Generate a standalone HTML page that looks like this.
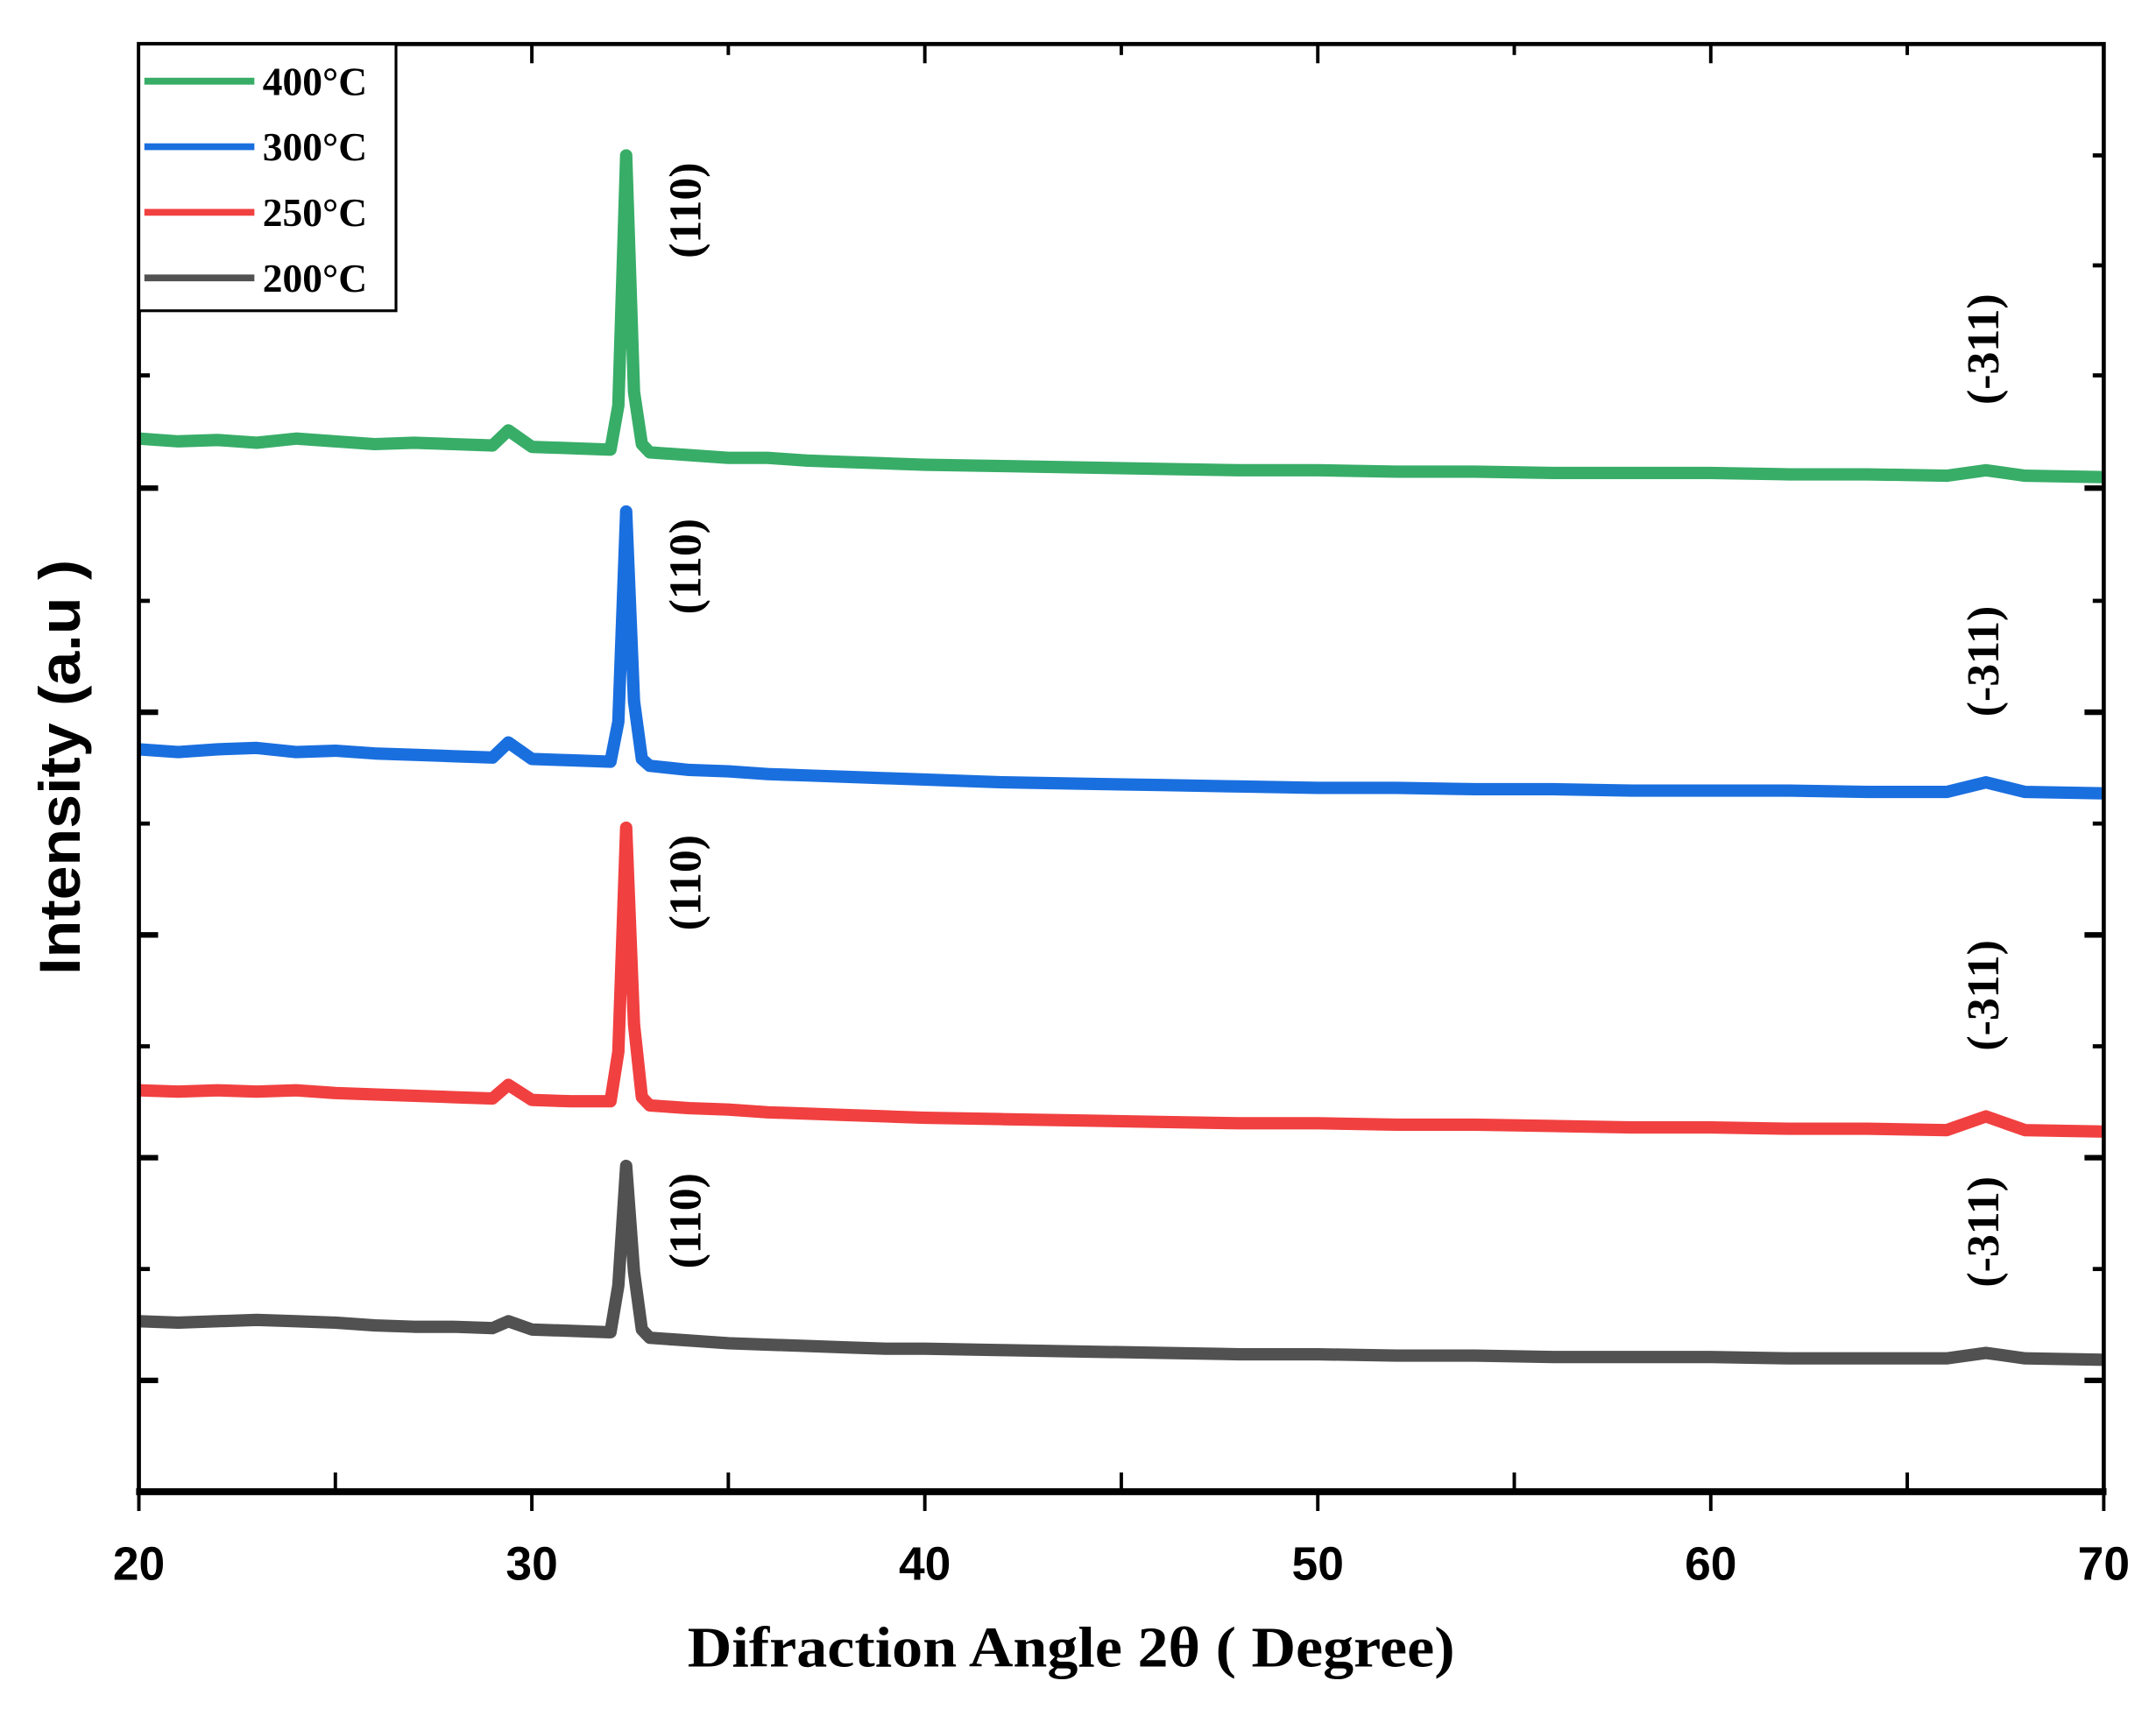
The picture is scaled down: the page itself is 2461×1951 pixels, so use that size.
<!DOCTYPE html>
<html><head><meta charset="utf-8"><style>
html,body{margin:0;padding:0;background:#fff;}
svg{display:block;}
</style></head><body>
<svg id="chart" width="2461" height="1951" viewBox="0 0 1568 1243" xmlns="http://www.w3.org/2000/svg">
<rect width="1568" height="1243" fill="#fff"/>
<g id="series"></g>
<g id="axes"></g>
<g id="legend">
  <rect x="101" y="32" width="187" height="194" fill="#fff" stroke="#000" stroke-width="2"/>
</g>
<text x="779" y="1212" text-anchor="middle" font-family="Liberation Serif, serif" font-weight="bold" font-size="42" textLength="558" lengthAdjust="spacingAndGlyphs">Difraction Angle 2θ ( Degree)</text>
<text transform="translate(58,558) rotate(-90)" text-anchor="middle" font-family="Liberation Sans, sans-serif" font-weight="bold" font-size="42" textLength="302" lengthAdjust="spacingAndGlyphs">Intensity (a.u )</text>
</svg>
<script>
const xs = [20,21,22,23,24,25,26,27,28,29,29.4,30,31,32,32.2,32.4,32.6,32.8,33,34,35,36,37,38,39,40,42,44,46,48,50,52,54,56,58,60,62,64,66,67,68,70];
const s400 = [766,764,765,763,766,764,762,763,762,761,772,760,759,758,790,972,800,762,756,754,752,752,750,749,748,747,746,745,744,743,743,742,742,741,741,741,740,740,739,743,739,738];
const s300 = [540,538,540,541,538,539,537,536,535,534,545,533,532,531,560,713,575,533,528,525,524,522,521,520,519,518,516,515,514,513,512,512,511,511,510,510,510,509,509,516,509,508];
const s250 = [292,291,292,291,292,290,289,288,287,286,296,285,284,284,320,483,340,287,281,279,278,276,275,274,273,272,271,270,269,268,268,267,267,266,265,265,264,264,263,273,263,262];
const s200 = [124,123,124,125,124,123,121,120,120,119,124,118,117,116,150,237,160,118,112,110,108,107,106,105,104,104,103,102,101,100,100,99,99,98,98,98,97,97,97,101,97,96];
const seriesNames = ["400°C","300°C","250°C","200°C"];
const seriesColors = ["#38ad68","#1a6fdf","#f14040","#515151"];
const seriesData = [s400,s300,s250,s200];
const xTicks = [20,30,40,50,60,70];
const xMinor = [25,35,45,55,65];
const peak110 = 32.4, peak311 = 67;

const L=101,R=1530,T=32,B=1085, XMIN=20,XMAX=70, YMIN=0,YMAX=1053;
const sx = v => L + (v-XMIN)/(XMAX-XMIN)*(R-L);
const sy = v => B - (v-YMIN)/(YMAX-YMIN)*(B-T);
const NS="http://www.w3.org/2000/svg";
function mk(tag, attrs, parent){const e=document.createElementNS(NS,tag);for(const k in attrs)e.setAttribute(k,attrs[k]);parent.appendChild(e);return e;}
const gS=document.getElementById('series'), gA=document.getElementById('axes'), gL=document.getElementById('legend');

seriesData.forEach((arr,i)=>{
  const d = arr.map((v,j)=>(j?'L':'M')+sx(xs[j]).toFixed(1)+','+sy(v).toFixed(1)).join('');
  const p = mk('path',{d:d,fill:'none',stroke:seriesColors[i],'stroke-width':9,'stroke-linejoin':'round'},gS);
  
  
  const base = arr[xs.indexOf(peak110)];
  const a1 = mk('text',{transform:`translate(${sx(peak110)+54},${sy(base)+40}) rotate(-90)`,'text-anchor':'middle','font-family':'Liberation Serif, serif','font-weight':'bold','font-size':33},gS);
  a1.textContent='(110)';
  
  
  const b2 = arr[xs.indexOf(peak311)];
  const a2 = mk('text',{transform:`translate(${sx(peak311)+9},${sy(b2)-88}) rotate(-90)`,'text-anchor':'middle','font-family':'Liberation Serif, serif','font-weight':'bold','font-size':33},gS);
  a2.textContent='(-311)';
  
  
  const ly = 59 + i*47.7;
  const ll = mk('line',{x1:105,x2:185,y1:ly,y2:ly,stroke:seriesColors[i],'stroke-width':5},gL);
  
  
  const lt = mk('text',{x:191,y:ly+10,'font-family':'Liberation Serif, serif','font-weight':'bold','font-size':29},gL);
  lt.textContent=seriesNames[i];
  
  
});

const fr = mk('rect',{x:L,y:T,width:R-L,height:B-T,fill:'none',stroke:'#000','stroke-width':3},gA);


mk('line',{x1:L-2,x2:R+2,y1:B,y2:B,stroke:'#000','stroke-width':5},gA);
xTicks.forEach(v=>{
  mk('line',{x1:sx(v),x2:sx(v),y1:B,y2:B+14,stroke:'#000','stroke-width':2.5},gA);
  mk('line',{x1:sx(v),x2:sx(v),y1:T,y2:T+14,stroke:'#000','stroke-width':2.5},gA);
  const t=mk('text',{x:sx(v),y:B+64,'text-anchor':'middle','font-family':'Liberation Sans, sans-serif','font-weight':'bold','font-size':34},gA);
  t.textContent=v;
  
  
});
xMinor.forEach(v=>{
  mk('line',{x1:sx(v),x2:sx(v),y1:B,y2:B-14,stroke:'#000','stroke-width':2.5},gA);
  mk('line',{x1:sx(v),x2:sx(v),y1:T,y2:T+8,stroke:'#000','stroke-width':2.5},gA);
});
const yMajor=[355,518,680,842,1004], yMinorL=[273,437,599,761,923], yMinorR=[113,193,273,437,599,761,923];
yMajor.forEach(y=>{mk('line',{x1:L,x2:L+14,y1:y,y2:y,stroke:'#000','stroke-width':4},gA);mk('line',{x1:R,x2:R-14,y1:y,y2:y,stroke:'#000','stroke-width':4},gA);});
yMinorL.forEach(y=>mk('line',{x1:L,x2:L+8,y1:y,y2:y,stroke:'#000','stroke-width':3},gA));
yMinorR.forEach(y=>mk('line',{x1:R,x2:R-8,y1:y,y2:y,stroke:'#000','stroke-width':3},gA));
</script>
</body></html>
